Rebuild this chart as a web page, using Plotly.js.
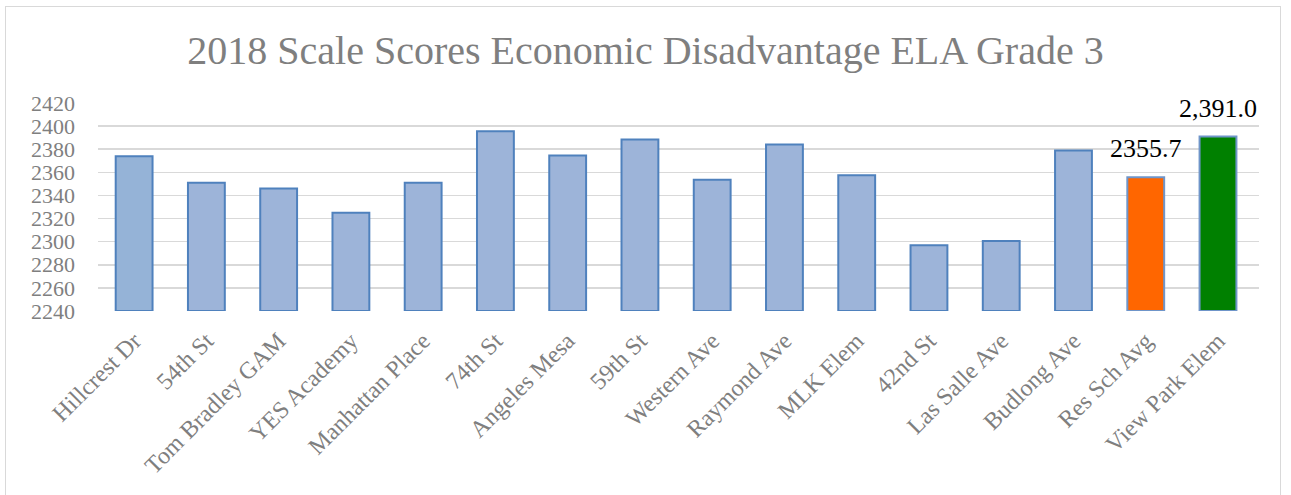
<!DOCTYPE html>
<html>
<head>
<meta charset="utf-8">
<script src="https://cdn.plot.ly/plotly-3.0.1.min.js"></script>
<style>
  html, body { margin: 0; padding: 0; background: #fff; }
  #wrap { position: relative; width: 1291px; height: 495px; overflow: hidden; }
  #chart { position: absolute; left: 0; top: 0; width: 1291px; height: 495px; }
  #frame { position: absolute; left: 5px; top: 6px; width: 1274px; height: 520px;
           border: 1.5px solid #d9d9d9; pointer-events: none; }
</style>
</head>
<body>
<div id="wrap">
  <div id="chart"></div>
  <div id="frame"></div>
</div>
<script>
const schools = ["Hillcrest Dr", "54th St", "Tom Bradley GAM", "YES Academy", "Manhattan Place",
  "74th St", "Angeles Mesa", "59th St", "Western Ave", "Raymond Ave", "MLK Elem", "42nd St",
  "Las Salle Ave", "Budlong Ave", "Res Sch Avg", "View Park Elem"];
const scores = [2374, 2351, 2346, 2325, 2351, 2395.5, 2374.5, 2388.5, 2353.5, 2384, 2357.5,
  2297, 2300.5, 2379, 2355.7, 2391.0];
const barColors = ["#95b3d7", "#9db4d9", "#9db4d9", "#9db4d9", "#9db4d9", "#9db4d9", "#9db4d9",
  "#9db4d9", "#9db4d9", "#9db4d9", "#9db4d9", "#9db4d9", "#9db4d9", "#9db4d9", "#ff6600", "#008000"];
const lineColors = ["#4f81bd", "#4f81bd", "#4f81bd", "#4f81bd", "#4f81bd", "#4f81bd", "#4f81bd",
  "#4f81bd", "#4f81bd", "#4f81bd", "#4f81bd", "#4f81bd", "#4f81bd", "#4f81bd", "#6f95c9", "#6f95c9"];
const labelled = ["Res Sch Avg", "View Park Elem"];
const labelTexts = ["2355.7", "2,391.0"];
const yTicks = [2240, 2260, 2280, 2300, 2320, 2340, 2360, 2380, 2400, 2420];

const annotations = labelled.map((name, i) => ({
  x: name,
  y: scores[schools.indexOf(name)],
  text: labelTexts[i],
  showarrow: false,
  xref: "x", yref: "y",
  yanchor: "bottom",
  yshift: 12,
  font: { family: "Liberation Serif, serif", size: 26, color: "#000000" }
}));

const trace = {
  type: "bar",
  x: schools,
  y: scores.map(v => v - 2240),
  base: 2240,
  marker: { color: barColors, line: { color: lineColors, width: 2 } },
  hoverinfo: "x+y"
};

const layout = {
  width: 1291, height: 495,
  margin: { l: 98, r: 32, t: 103, b: 184 },
  paper_bgcolor: "#ffffff", plot_bgcolor: "#ffffff",
  title: {
    text: "2018 Scale Scores Economic Disadvantage ELA Grade 3",
    font: { family: "Liberation Serif, serif", size: 40, color: "#7f7f7f" },
    x: 0.5, xref: "container", xanchor: "center",
    y: 1 - 50 / 495, yref: "container", yanchor: "middle"
  },
  bargap: 0.49,
  showlegend: false,
  xaxis: {
    type: "category",
    tickangle: -45,
    tickfont: { family: "Liberation Serif, serif", size: 24, color: "#7f7f7f" },
    showgrid: false, zeroline: false, showline: false,
    ticks: "", ticklabelstandoff: 10
  },
  yaxis: {
    range: [2240, 2420],
    tickvals: yTicks, ticktext: yTicks.map(String),
    tickfont: { family: "Liberation Serif, serif", size: 22, color: "#7f7f7f" },
    showgrid: true, gridcolor: "#d9d9d9", gridwidth: 1.5,
    zeroline: false, showline: false, ticks: "",
    ticklabelstandoff: 22
  },
  annotations: annotations
};

Plotly.newPlot("chart", [trace], layout, { displayModeBar: false, staticPlot: true });
</script>
</body>
</html>
